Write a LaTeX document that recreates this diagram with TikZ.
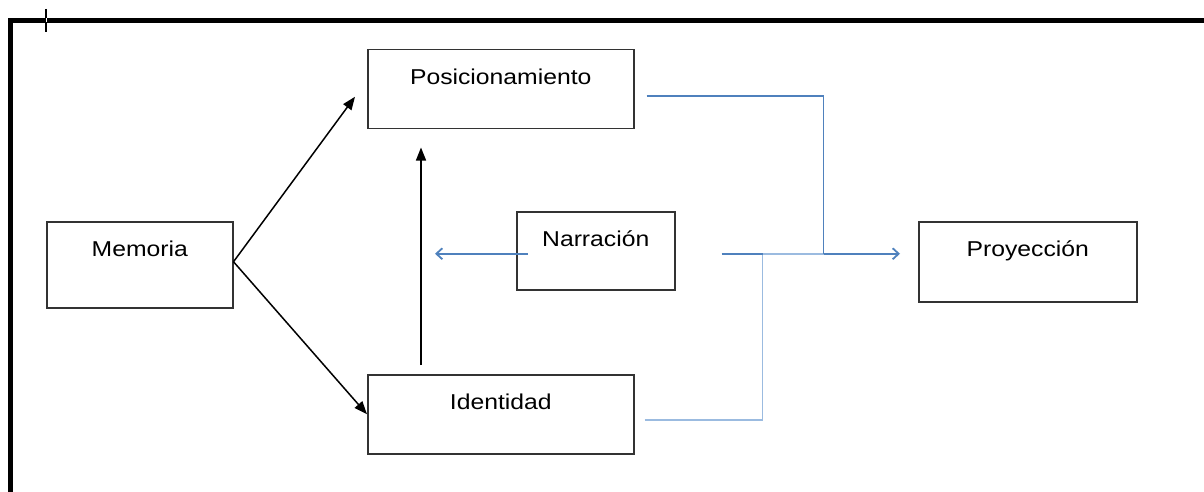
\documentclass[tikz,border=0pt]{standalone}
\usepackage{fontspec}
\setmainfont{Liberation Sans}[FakeStretch=1.15]
\usetikzlibrary{arrows.meta,calc}
\definecolor{azul}{HTML}{4F81BD}
\definecolor{celeste}{HTML}{9BBBE0}
\begin{document}
\begin{tikzpicture}[x=1pt,y=-1pt,
  caja/.style={draw=black!80, line width=1.5pt, inner sep=0pt, text height=35pt, anchor=north west, font=\fontsize{21.5}{24}\selectfont},
  flecha/.style={line width=1.5pt, -{Triangle[length=13pt,width=10pt]}},
  linea/.style={azul, line width=1.8pt},
  lineaclara/.style={celeste, line width=1.8pt},
  punta/.style={-{Straight Barb[length=6pt,width=11pt]}}]
\useasboundingbox (0,0) rectangle (1204,492);
% marco
\draw[line width=4.5pt] (10.5,492) -- (10.5,20.5) -- (1204,20.5);
\draw[line width=2pt] (46,9) -- (46,32);
\draw[white, line width=0.7pt] (46,18.5) -- (46,22.5);
% cajas
\node[caja, minimum width=266pt, text depth=44pt] (pos) at (367,49) {Posicionamiento};
\node[caja, minimum width=186pt, text depth=51pt] (mem) at (46,221) {Memoria};
\node[caja, minimum width=158pt, text depth=43pt] (nar) at (516,211) {Narración};
\node[caja, minimum width=266pt, text depth=44pt] (iden) at (367,374) {Identidad};
\node[caja, minimum width=218pt, text depth=45pt] (proy) at (918,221) {Proyección};
% flechas negras
\draw[flecha] ($(mem.east)+(0,-3)$) -- ($(pos.west)+(-12,7.5)$);
\draw[flecha] ($(mem.east)+(0,-3)$) -- (iden.west);
\draw[flecha] ($(iden.north west)+(54,-9)$) -- ($(pos.south west)+(54,18)$);
% lineas azules
\coordinate (union) at ($(nar.east)+(87,3)$);
\coordinate (codo) at ($(nar.east)+(148,3)$);
\draw[linea, punta] ($(nar.west)+(12,3)$) -- ($(nar.west)+(-81,3)$);
\draw[lineaclara] ($(iden.east)+(10,5.5)$) -| (union) -- (codo);
\draw[linea] ($(nar.east)+(46,3)$) -- (union);
\draw[linea] ($(pos.east)+(12,6.5)$) -| (codo);
\draw[linea, punta] (codo) -- ($(proy.west)+(-18,-8)$);
\end{tikzpicture}
\end{document}
